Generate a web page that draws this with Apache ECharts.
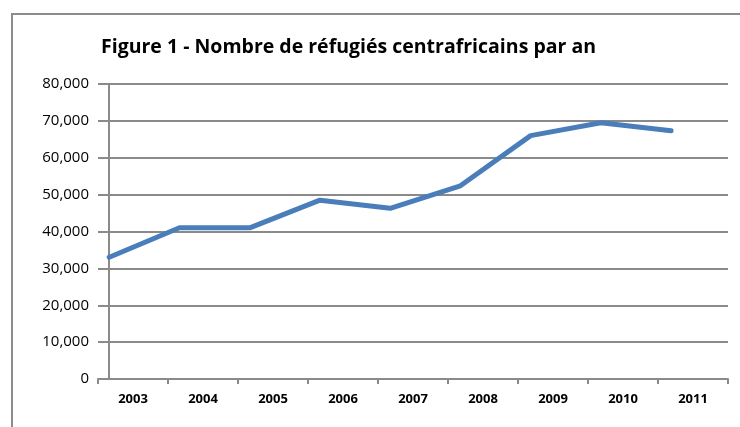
<!DOCTYPE html>
<html>
<head>
<meta charset="utf-8">
<script src="https://cdn.jsdelivr.net/npm/echarts@6/dist/echarts.min.js"></script>
<style>
html, body { margin: 0; padding: 0; background: #fff; }
#chart { width: 740px; height: 427px; }
</style>
</head>
<body>
<div id="chart"></div>
<script>
var years = ['2003', '2004', '2005', '2006', '2007', '2008', '2009', '2010', '2011'];
var refugees = [33000, 41000, 41000, 48500, 46300, 52400, 66000, 69500, 67300];
var yTicks = [0, 10000, 20000, 30000, 40000, 50000, 60000, 70000, 80000];

var chart = echarts.init(document.getElementById('chart'));

var axisGray = '#8a8a8a';

// the line in the original sits a bit left of the category centres,
// so it is drawn on a hidden value axis over the same grid
var points = refugees.map(function (v, i) { return [i, v]; });

var option = {
	animation: false,
	graphic: [{
		type: 'rect',
		shape: { x: 12, y: 14, width: 760, height: 440 },
		style: { fill: 'none', stroke: '#8c8c8c', lineWidth: 2 },
		silent: true
	}],
	title: {
		text: 'Figure 1 - Nombre de réfugiés centrafricains par an',
		left: 96,
		top: 32,
		textStyle: {
			fontFamily: 'Open Sans',
			fontWeight: 'bold',
			fontSize: 19.5,
			color: '#000'
		}
	},
	grid: {
		left: 98,
		top: 84,
		right: 12,
		bottom: 48,
		containLabel: false
	},
	xAxis: [{
		type: 'category',
		data: years,
		boundaryGap: true,
		axisLine: { lineStyle: { color: axisGray, width: 2 } },
		axisTick: { show: true, length: 5, lineStyle: { color: axisGray, width: 2 } },
		axisLabel: {
			fontFamily: 'Open Sans',
			fontWeight: 'bold',
			fontSize: 13,
			color: '#000',
			margin: 14
		},
		splitLine: { show: false }
	}, {
		type: 'value',
		show: false,
		min: -0.16,
		max: 8.81
	}],
	yAxis: {
		type: 'value',
		min: 0,
		max: 80000,
		interval: 10000,
		axisLine: { show: true, lineStyle: { color: axisGray, width: 2 } },
		axisTick: { show: true, length: 7, lineStyle: { color: axisGray, width: 2 } },
		axisLabel: {
			fontFamily: 'Open Sans',
			fontSize: 15,
			color: '#000',
			margin: 9,
			formatter: function (v) {
				return v.toLocaleString('en-US');
			}
		},
		splitLine: { show: true, lineStyle: { color: axisGray, width: 2 } }
	},
	series: [{
		name: 'Réfugiés',
		type: 'line',
		xAxisIndex: 1,
		data: points,
		symbol: 'none',
		lineStyle: { color: '#4a7ebb', width: 5, cap: 'round', join: 'round' }
	}]
};

chart.setOption(option);
</script>
</body>
</html>
